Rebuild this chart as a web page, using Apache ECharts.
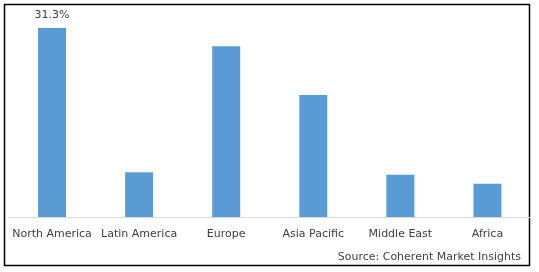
<!DOCTYPE html>
<html><head><meta charset="utf-8">
<script src="https://cdn.jsdelivr.net/npm/echarts@6/dist/echarts.min.js"></script>
<style>html,body{margin:0;padding:0;background:#fff}#c{width:539px;height:272px}</style>
</head><body><div id="c"></div>
<script>
const categories = ['North America','Latin America','Europe','Asia Pacific','Middle East','Africa'];
const values = [31.3, 7.4, 28.3, 20.2, 7.0, 5.5];
const labelText = '31.3%';
const sourceText = 'Source: Coherent Market Insights';

const chart = echarts.init(document.getElementById('c'));
chart.setOption({
  animation:false,
  backgroundColor:'#fff',
  grid:{left:8.5, right:8, top:5.7, bottom:55, containLabel:false},
  xAxis:{type:'category', data:categories,
    axisLine:{lineStyle:{color:'#d9d9d9', width:1}},
    axisTick:{show:false},
    axisLabel:{color:'#404040', fontFamily:'DejaVu Sans', fontSize:11, margin:12, interval:0}},
  yAxis:{type:'value', min:0, max:35, show:false, splitLine:{show:false}},
  series:[{type:'bar', barWidth:28,
    itemStyle:{color:'#5b9bd5'},
    data: values.map((v,i)=> i===0 ? {value:v, label:{show:true, position:'top', distance:7, formatter:labelText, color:'#404040', fontFamily:'DejaVu Sans', fontSize:11}} : v)
  }],
  graphic:[
    {type:'rect', shape:{x:4.5,y:4.5,width:525,height:261}, style:{fill:null, stroke:'#000', lineWidth:1.5}, silent:true},
    {type:'text', right:18, top:252, style:{text:sourceText, fill:'#404040', font:'11px "DejaVu Sans"'}}
  ]
});
</script></body></html>
